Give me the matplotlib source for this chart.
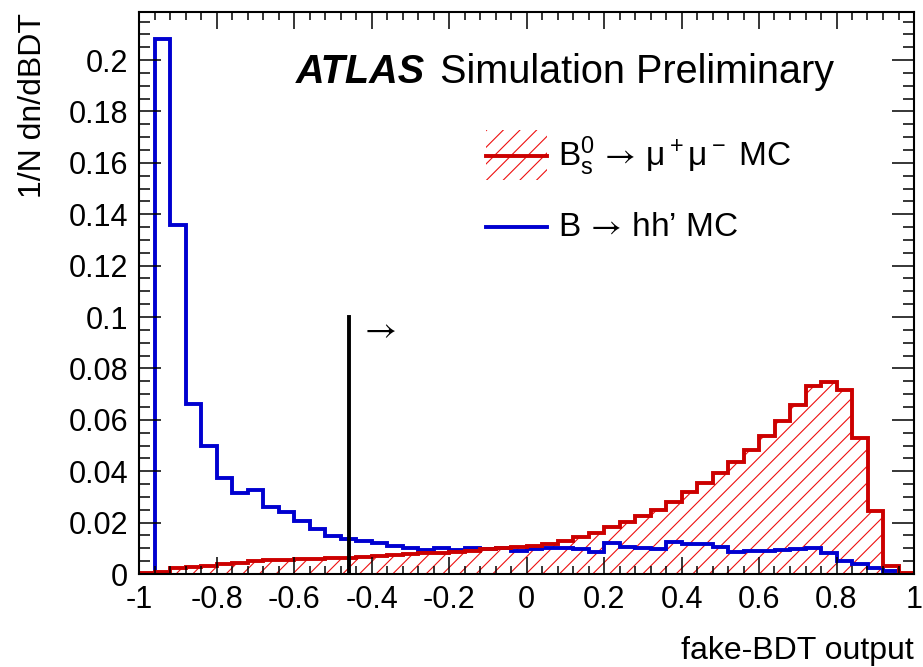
import matplotlib
matplotlib.use("Agg")
import numpy as np
import matplotlib.pyplot as plt
from matplotlib.ticker import MultipleLocator, FuncFormatter
from matplotlib.patches import Rectangle
from matplotlib.lines import Line2D

plt.rcParams["font.family"] = ["Liberation Sans", "DejaVu Sans"]
plt.rcParams["axes.unicode_minus"] = False
plt.rcParams["hatch.linewidth"] = 0.8
plt.rcParams["mathtext.fontset"] = "custom"
plt.rcParams["mathtext.rm"] = "Liberation Sans"
plt.rcParams["mathtext.it"] = "Liberation Sans:italic"
plt.rcParams["mathtext.bf"] = "Liberation Sans:bold"
# thin arrows come from STIX
plt.rcParams["mathtext.sf"] = "STIXGeneral"

# 50 bins of width 0.04 on the fake-BDT output
bin_edges = np.linspace(-1.0, 1.0, 51)

# Bs -> mu mu signal MC, normalised per bin
signal_mc = [
    0.0003, 0.0008, 0.0022, 0.0026, 0.0031, 0.0038, 0.0044, 0.0050, 0.0053, 0.0055,
    0.0057, 0.0059, 0.0062, 0.0064, 0.0067, 0.0070, 0.0074, 0.0077, 0.0080, 0.0083,
    0.0087, 0.0091, 0.0096, 0.0101, 0.0105, 0.0108, 0.0118, 0.0130, 0.0143, 0.0161,
    0.0181, 0.0202, 0.0226, 0.0248, 0.0279, 0.0318, 0.0355, 0.0394, 0.0437, 0.0482,
    0.0537, 0.0597, 0.0658, 0.0732, 0.0748, 0.0716, 0.0528, 0.0247, 0.0033, 0.0003,
]

# B -> hh' background MC
hh_mc = [
    0.0000, 0.2080, 0.1360, 0.0660, 0.0498, 0.0375, 0.0316, 0.0327, 0.0262, 0.0243,
    0.0208, 0.0176, 0.0146, 0.0137, 0.0129, 0.0120, 0.0109, 0.0100, 0.0094, 0.0102,
    0.0092, 0.0100, 0.0098, 0.0100, 0.0090, 0.0096, 0.0100, 0.0100, 0.0096, 0.0086,
    0.0119, 0.0106, 0.0100, 0.0099, 0.0126, 0.0115, 0.0115, 0.0106, 0.0087, 0.0089,
    0.0089, 0.0093, 0.0097, 0.0100, 0.0081, 0.0051, 0.0039, 0.0022, 0.0012, 0.0000,
]

cut_value = -0.458
cut_line_top = 0.1

red = "#cc0000"
hatch_red = "#ee1010"
blue = "#0000d0"

fig = plt.figure(figsize=(9.23, 6.67), dpi=100)
ax = fig.add_axes([139 / 923, 1 - 574 / 667, 775 / 923, 562 / 667])

ax.stairs(signal_mc, bin_edges, fill=True, facecolor="none", edgecolor=hatch_red,
          hatch="//", linewidth=0)
ax.stairs(hh_mc, bin_edges, color=blue, linewidth=2.8)
ax.stairs(signal_mc, bin_edges, color=red, linewidth=2.8)

# selection cut and direction arrow
ax.plot([cut_value, cut_value], [0, cut_line_top], color="black", linewidth=2.8)
ax.text(cut_value + 0.04, cut_line_top * 0.94, "\u2192", fontsize=25,
        family="STIXGeneral", ha="left", va="center")

ax.set_xlim(-1, 1)
ax.set_ylim(0, 0.2187)

fmt = FuncFormatter(lambda v, p: f"{round(v, 6) + 0:g}")
ax.xaxis.set_major_locator(MultipleLocator(0.2))
ax.xaxis.set_minor_locator(MultipleLocator(0.04))
ax.yaxis.set_major_locator(MultipleLocator(0.02))
ax.yaxis.set_minor_locator(MultipleLocator(0.005))
ax.xaxis.set_major_formatter(fmt)
ax.yaxis.set_major_formatter(fmt)

ax.tick_params(which="both", direction="in", top=True, right=True, width=1.1)
ax.tick_params(axis="x", which="major", length=12, labelsize=22, pad=8)
ax.tick_params(axis="x", which="minor", length=6)
ax.tick_params(axis="y", which="major", length=16, labelsize=22, pad=8)
ax.tick_params(axis="y", which="minor", length=8)
for s in ax.spines.values():
    s.set_linewidth(1.5)

ax.set_xlabel("fake-BDT output", fontsize=23, loc="right")
ax.xaxis.set_label_coords(1.0, -0.11)
ax.set_ylabel("1/N dn/dBDT", fontsize=23, ha="left", va="top",
              rotation_mode="default")
ax.yaxis.set_label_coords(-0.156, 0.998)

ax.text(0.2026, 0.8737, "ATLAS", transform=ax.transAxes, fontsize=28.5,
        fontweight="bold", fontstyle="italic", va="baseline")
ax.text(0.388, 0.8737, "Simulation Preliminary", transform=ax.transAxes,
        fontsize=28.5, va="baseline")

# legend entries
ax.add_patch(Rectangle((0.448, 0.701), 0.078, 0.089, transform=ax.transAxes,
                       facecolor="none", edgecolor=hatch_red, hatch="//", linewidth=0))
ax.add_line(Line2D([0.448, 0.526], [0.744, 0.744], transform=ax.transAxes,
                   color=red, linewidth=2.8))
ax.text(0.541, 0.744,
        r"$\mathregular{B_s^0}\,\mathsf{\rightarrow}\,\mathregular{\mu^+\mu^-}$ MC",
        transform=ax.transAxes, fontsize=24, va="center")
ax.add_line(Line2D([0.448, 0.526], [0.617, 0.617], transform=ax.transAxes,
                   color=blue, linewidth=2.8))
ax.text(0.541, 0.617, "B$\\,\\mathsf{\\rightarrow}\\,$hh\u2019 MC",
        transform=ax.transAxes, fontsize=24, va="center")

fig.savefig("out.png", dpi=100)
